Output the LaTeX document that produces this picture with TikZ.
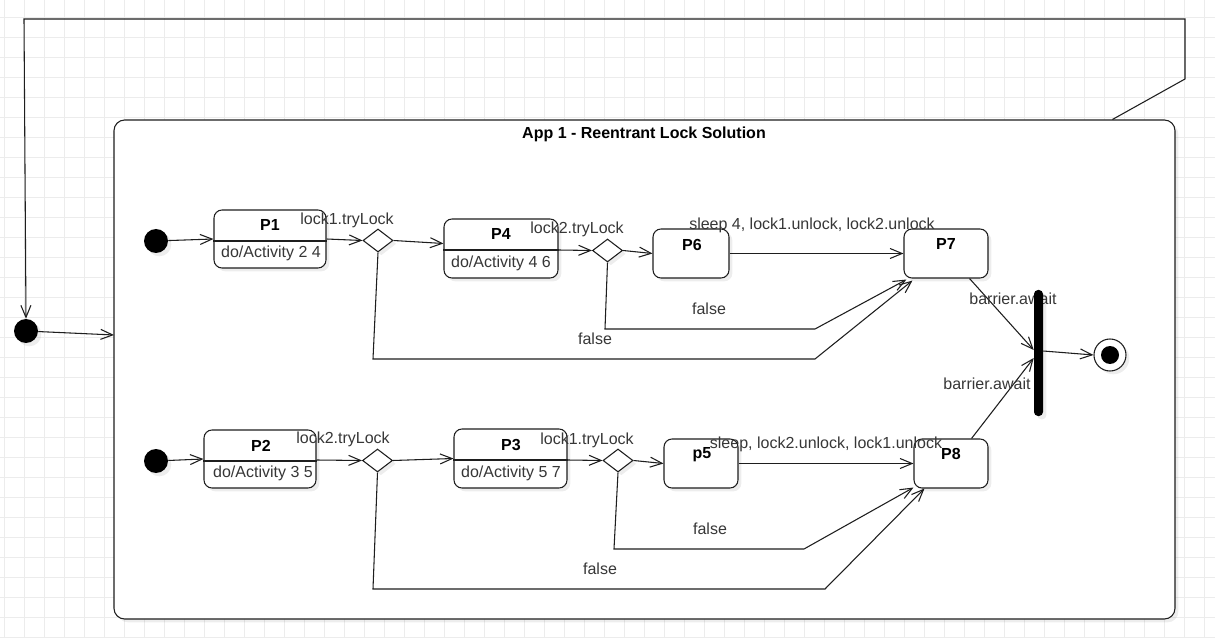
\documentclass[tikz,border=0pt]{standalone}
\usepackage{fontspec}
\setmainfont{Liberation Sans}
\usetikzlibrary{arrows.meta,shapes.geometric,shadows,calc}
\pgfdeclarelayer{back}
\pgfdeclarelayer{mid}
\pgfsetlayers{back,mid,main}
\definecolor{gridc}{RGB}{236,236,236}
\definecolor{linec}{RGB}{30,30,30}
\definecolor{txtc}{RGB}{55,55,55}
\begin{document}
\begin{tikzpicture}[x=0.75pt,y=-0.75pt,
  shd/.style={drop shadow={shadow xshift=2.5pt,shadow yshift=-2.5pt,fill=black,opacity=0.07}},
  stbox/.style={draw=linec,line width=0.8pt,fill=white,rounded corners=6pt,shd,inner sep=0pt},
  dec/.style={diamond,draw=linec,line width=0.8pt,fill=white,inner sep=0pt,minimum width=22.5pt,minimum height=17.25pt,shd},
  initdot/.style={circle,fill=black,inner sep=0pt,minimum size=18pt,shd},
  lbl/.style={text=txtc,font=\fontsize{12}{14}\selectfont,inner sep=0pt},
  ttl/.style={text=black,font=\fontsize{12}{14}\selectfont\bfseries,inner sep=0pt},
  flow/.style={draw=linec,line width=0.8pt,-{Straight Barb[length=9pt,width=7.5pt]}},
  plain/.style={draw=linec,line width=0.8pt},
  gridline/.style={draw=gridc,line width=0.6pt}
]
\useasboundingbox (0,0) rectangle (1215,638);
\begin{pgfonlayer}{back}
  \fill[white] (0,0) rectangle (1215,638);
  \foreach \gx in {4,24,...,1215} \draw[gridline] (\gx,0) -- (\gx,638);
  \foreach \gy in {17,37,...,638} \draw[gridline] (0,\gy) -- (1215,\gy);
  \node[draw=linec,line width=0.8pt,fill=white,rounded corners=8pt,minimum width=795.75pt,minimum height=374.25pt,inner sep=0pt,shd] (cont) at (644.5,369.5) {};
\end{pgfonlayer}

% title
\node[ttl] (title) at (644,134) {App 1 - Reentrant Lock Solution};

% initial dots
\node[initdot] (i0) at (26,331) {};
\node[initdot] (i1) at (156,241) {};
\node[initdot] (i2) at (156,461) {};
\coordinate (cin) at (114,335);

% top row
\node[stbox,minimum width=84pt,minimum height=43.5pt] (P1) at (270,239) {};
\node[stbox,minimum width=85.5pt,minimum height=44.25pt] (P4) at (501,248.5) {};
\node[stbox,minimum width=57pt,minimum height=36.75pt] (P6) at (691,253.5) {};
\node[stbox,minimum width=63pt,minimum height=36.75pt] (P7) at (946,253.5) {};
\node[dec] (d1) at (378,240.5) {};
\node[dec] (d2) at (607.5,250.5) {};

% bottom row
\node[stbox,minimum width=84pt,minimum height=43.5pt] (P2) at (260,459) {};
\node[stbox,minimum width=84.75pt,minimum height=44.25pt] (P3) at (510.5,458.5) {};
\node[stbox,minimum width=55.5pt,minimum height=36.75pt] (p5) at (701,463.5) {};
\node[stbox,minimum width=55.5pt,minimum height=36.75pt] (P8) at (951,463.5) {};
\node[dec] (d3) at (377.5,460.5) {};
\node[dec] (d4) at (618,460.5) {};

% dividers
\draw[plain] (P1.west |- 0,241) -- (P1.east |- 0,241);
\draw[plain] (P4.west |- 0,250) -- (P4.east |- 0,250);
\draw[plain] (P2.west |- 0,461) -- (P2.east |- 0,461);
\draw[plain] (P3.west |- 0,460) -- (P3.east |- 0,460);

% state texts
\node[ttl] (tP1) at (270,225) {P1};
\node[lbl] (aP1) at (271,253) {do/Activity 2 4};
\node[ttl] (tP4) at (501,234) {P4};
\node[lbl] (aP4) at (501,263) {do/Activity 4 6};
\node[ttl] (tP6) at (692,245) {P6};
\node[ttl] (tP7) at (946,244) {P7};
\node[ttl] (tP2) at (261,446) {P2};
\node[lbl] (aP2) at (263,473) {do/Activity 3 5};
\node[ttl] (tP3) at (511,445) {P3};
\node[lbl] (aP3) at (511,473) {do/Activity 5 7};
\node[ttl] (tp5) at (702,455) {p5};
\node[ttl] (tP8) at (951,454) {P8};

% edge labels
\node[lbl] (l1) at (347,220) {lock1.tryLock};
\node[lbl] (l2) at (577,229) {lock2.tryLock};
\node[lbl] (l3) at (812,225) {sleep 4, lock1.unlock, lock2.unlock};
\node[lbl] (l4) at (709,309) {false};
\node[lbl] (l5) at (595,339) {false};
\node[lbl] (l6) at (1013,299) {barrier.await};
\node[lbl] (l7) at (987,384) {barrier.await};
\node[lbl] (l8) at (343,439) {lock2.tryLock};
\node[lbl] (l9) at (587,440) {lock1.tryLock};
\node[lbl] (l10) at (826,444) {sleep, lock2.unlock, lock1.unlock};
\node[lbl] (l11) at (710,529) {false};
\node[lbl] (l12) at (600,569) {false};

% join bar and final
\node[fill=black,rounded corners=3pt,minimum width=6.75pt,minimum height=94.5pt,inner sep=0pt,shd] (bar) at (1038.5,353) {};
\node[circle,draw=linec,line width=0.8pt,fill=white,minimum size=24pt,inner sep=0pt,shd] (fin) at (1110,355) {};
\node[circle,fill=black,minimum size=13.5pt,inner sep=0pt] (finin) at (fin) {};

\begin{pgfonlayer}{mid}
  % outer loop
  \draw[flow] ($(cont.north west)+(999,0)$) -- (1185,79) -- (1185,19) -- (24,19) -- (i0.north);
  \draw[flow] (i0) -- (cin);
  % top row
  \draw[flow] (i1) -- (P1.west);
  \draw[flow] (P1.east) -- (d1.west);
  \draw[flow] (d1.east) -- ($(P4.west)+(0,-5)$);
  \draw[flow] (P4.east |- 0,250) -- (d2.west);
  \draw[flow] (d2.east) -- (P6.west);
  \draw[flow] (P6.east) -- (P7.west);
  \draw[flow] (d2.south) -- (605,329) -- (815,329) -- ($(P7.south west)+(3,1)$);
  \draw[flow] (d1.south) -- (373,359) -- (815,359) -- ($(P7.south west)+(9,2)$);
  \draw[flow] ($(P7.south east)+(-19,0)$) -- ($(bar.west)+(0,-3)$);
  % bottom row
  \draw[flow] (i2) -- (P2.west);
  \draw[flow] (P2.east |- 0,460) -- (d3.west);
  \draw[flow] (d3.east) -- (P3.west);
  \draw[flow] (P3.east |- 0,460) -- (d4.west);
  \draw[flow] (d4.east) -- (p5.west);
  \draw[flow] (p5.east) -- (P8.west);
  \draw[flow] (d4.south) -- (614,549) -- (804,549) -- ($(P8.south west)+(0,-1)$);
  \draw[flow] (d3.south) -- (373,589) -- (825,589) -- ($(P8.south west)+(11,0)$);
  \draw[flow] ($(P8.north east)+(-17,0)$) -- ($(bar.west)+(0,5)$);
  % to final
  \draw[flow] (bar.east |- 0,351) -- (fin.west);
\end{pgfonlayer}
\end{tikzpicture}
\end{document}
